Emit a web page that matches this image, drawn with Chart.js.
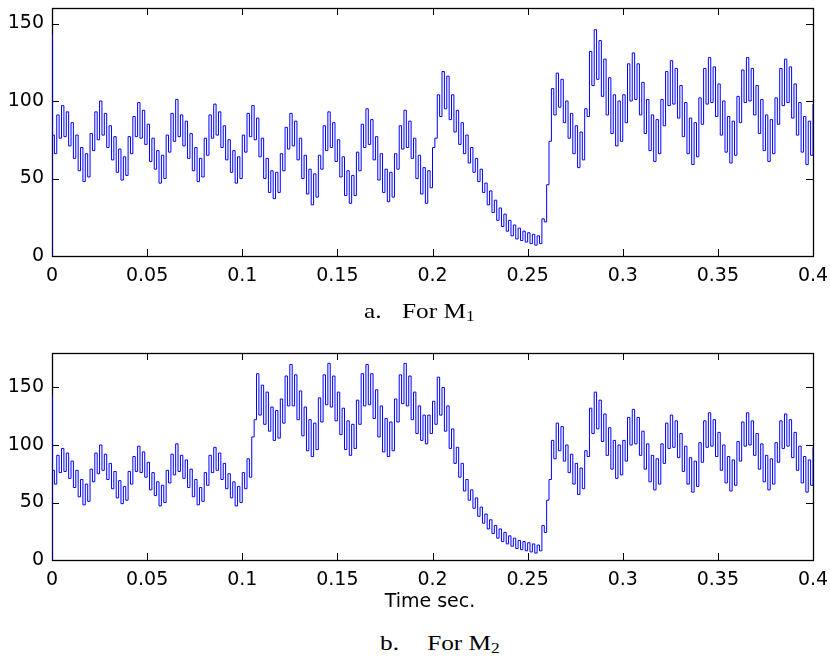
<!DOCTYPE html>
<html>
<head>
<meta charset="utf-8">
<script src="https://cdn.jsdelivr.net/npm/chart.js@4.4.0/dist/chart.umd.min.js"></script>
<style>
  body { margin: 0; background: #fff; width: 830px; height: 657px; position: relative; overflow: hidden; }
  canvas { position: absolute; left: 0; }
  .caption { position: absolute; font-family: "Liberation Serif", serif; font-size: 22px; line-height: 22px; color: #000; white-space: pre; transform: scaleX(1.15); transform-origin: 0 0; }
  .caption sub { font-size: 15px; vertical-align: -3px; line-height: 0; }
  .xlabel { position: absolute; left: 330px; width: 200px; text-align: center; font-family: "DejaVu Sans", sans-serif; font-size: 19px; line-height: 19px; top: 591px; color: #000; }
</style>
</head>
<body>
<canvas id="chartM1" width="830" height="300" style="top:0"></canvas>
<canvas id="chartM2" width="830" height="250" style="top:345px"></canvas>
<div class="caption" style="left:364px; top:300px">a.<span style="position:absolute; left:33px">For M<sub>1</sub></span></div>
<div class="caption" style="left:380px; top:632px">b.<span style="position:absolute; left:41px">For M<sub>2</sub></span></div>
<div class="xlabel">Time sec.</div>
<script>
// sampled every 1.25 ms from 0 to 0.4 s
const sampleTime = 0.00125;
const startSpike = [0, 143];

const m1Torque = [
  78, 66, 91, 76, 97, 77, 93, 71, 86, 63, 78, 55, 70, 48, 66, 51,
  79, 68, 93, 75, 100, 78, 92, 70, 84, 62, 77, 54, 69, 49, 64, 52,
  77, 66, 90, 77, 99, 76, 94, 72, 85, 61, 76, 56, 68, 47, 65, 50,
  78, 67, 92, 74, 101, 77, 91, 71, 87, 63, 79, 55, 70, 48, 63, 51,
  76, 65, 91, 76, 98, 78, 93, 70, 84, 62, 75, 54, 68, 47, 64, 50,
  78, 67, 92, 77, 97, 75, 89, 64, 76, 50, 63, 41, 55, 37, 54, 41,
  66, 55, 83, 69, 92, 71, 87, 62, 76, 50, 65, 40, 56, 33, 53, 38,
  65, 56, 84, 68, 93, 70, 86, 61, 75, 51, 64, 39, 55, 34, 52, 39,
  67, 55, 85, 70, 95, 72, 88, 62, 77, 49, 66, 41, 56, 35, 54, 38,
  66, 56, 84, 69, 94, 70, 87, 63, 76, 50, 65, 40, 57, 34, 55, 44,
  70, 76, 104, 90, 119, 95, 116, 88, 104, 80, 94, 72, 86, 66, 78, 60,
  70, 54, 63, 48, 56, 41, 47, 33, 42, 28, 36, 23, 31, 19, 27, 16,
  23, 13, 20, 11, 18, 10, 16, 9, 15, 8, 14, 7, 13, 8, 24, 22,
  46, 74, 108, 91, 118, 96, 114, 86, 100, 76, 92, 66, 84, 57, 80, 62,
  95, 90, 132, 110, 146, 114, 139, 103, 127, 91, 115, 79, 104, 71, 100, 74,
  104, 86, 124, 100, 131, 101, 124, 91, 112, 79, 101, 68, 91, 61, 88, 66,
  101, 84, 119, 97, 126, 98, 121, 89, 110, 77, 99, 66, 89, 59, 86, 64,
  102, 85, 121, 98, 128, 99, 122, 90, 111, 78, 100, 67, 90, 60, 87, 65,
  103, 86, 120, 99, 128, 100, 121, 91, 110, 79, 101, 68, 91, 61, 88, 66,
  102, 85, 121, 97, 127, 99, 122, 89, 111, 78, 99, 67, 90, 59, 87, 65,
  98
];

const m2Torque = [
  78, 66, 91, 76, 97, 77, 93, 71, 86, 63, 78, 55, 70, 48, 66, 51,
  79, 68, 93, 75, 100, 78, 92, 70, 84, 62, 77, 54, 69, 49, 64, 52,
  77, 66, 90, 77, 99, 76, 94, 72, 85, 61, 76, 56, 68, 47, 65, 50,
  78, 67, 92, 74, 101, 77, 91, 71, 87, 63, 79, 55, 70, 48, 63, 51,
  76, 65, 91, 76, 98, 78, 93, 70, 84, 62, 75, 54, 68, 47, 64, 50,
  76, 62, 88, 72, 107, 122, 162, 126, 152, 118, 146, 112, 133, 104, 130, 106,
  140, 119, 160, 134, 170, 134, 161, 122, 147, 108, 133, 95, 122, 90, 119, 96,
  141, 120, 161, 135, 171, 133, 160, 121, 146, 109, 132, 96, 121, 91, 118, 97,
  139, 118, 162, 134, 170, 135, 162, 123, 148, 107, 134, 94, 123, 90, 120, 95,
  140, 120, 161, 136, 171, 134, 160, 122, 146, 110, 134, 104, 126, 101, 126, 110,
  138, 118, 159, 126, 150, 112, 134, 97, 114, 84, 98, 72, 84, 60, 70, 52,
  61, 45, 54, 38, 46, 32, 40, 27, 35, 23, 30, 19, 27, 16, 24, 14,
  21, 12, 19, 10, 17, 9, 16, 8, 15, 7, 14, 6, 13, 8, 30, 24,
  52, 70, 104, 88, 119, 95, 116, 86, 100, 76, 92, 66, 84, 57, 80, 62,
  95, 90, 132, 110, 146, 114, 139, 103, 127, 91, 115, 79, 104, 71, 100, 74,
  104, 86, 124, 100, 131, 101, 124, 91, 112, 79, 101, 68, 91, 61, 88, 66,
  101, 84, 119, 97, 126, 98, 121, 89, 110, 77, 99, 66, 89, 59, 86, 64,
  102, 85, 121, 98, 128, 99, 122, 90, 111, 78, 100, 67, 90, 60, 87, 65,
  103, 86, 120, 99, 128, 100, 121, 91, 110, 79, 101, 68, 91, 61, 88, 66,
  102, 85, 121, 97, 127, 99, 122, 89, 111, 78, 99, 67, 90, 59, 87, 65,
  98
];

const timeTicks = [0, 0.05, 0.1, 0.15, 0.2, 0.25, 0.3, 0.35, 0.4];
const m1Ticks = [0, 50, 100, 150];
const m2Ticks = [0, 50, 100, 150];

function toPoints(values) {
  const pts = startSpike.map(v => ({ x: 0, y: v }));
  values.forEach((v, i) => pts.push({ x: i * sampleTime, y: v }));
  return pts;
}

// matlab style box with ticks pointing inwards
const matlabBox = {
  id: "matlabBox",
  beforeDatasetsDraw(chart) {
    const { ctx, chartArea: a, scales } = chart;
    const len = 7;
    ctx.save();
    ctx.strokeStyle = "#000";
    ctx.lineWidth = 1;
    ctx.beginPath();
    scales.x.ticks.forEach(t => {
      const px = Math.round(scales.x.getPixelForValue(t.value)) + 0.5;
      ctx.moveTo(px, a.bottom); ctx.lineTo(px, a.bottom - len);
      ctx.moveTo(px, a.top); ctx.lineTo(px, a.top + len);
    });
    scales.y.ticks.forEach(t => {
      const py = Math.round(scales.y.getPixelForValue(t.value)) + 0.5;
      ctx.moveTo(a.left, py); ctx.lineTo(a.left + len, py);
      ctx.moveTo(a.right, py); ctx.lineTo(a.right - len, py);
    });
    ctx.stroke();
    ctx.lineWidth = 1.3;
    ctx.strokeRect(Math.round(a.left) + 0.5, Math.round(a.top) + 0.5,
      Math.round(a.right - a.left), Math.round(a.bottom - a.top));
    ctx.restore();
  }
};

function makeChart(id, values, yMax, yTicks, xHeight) {
  return new Chart(document.getElementById(id), {
    type: "line",
    data: {
      datasets: [{
        data: toPoints(values),
        borderColor: "#0000ff",
        borderWidth: 1,
        pointRadius: 0,
        stepped: true,
        tension: 0,
        fill: false,
      }],
    },
    options: {
      responsive: false,
      animation: false,
      events: [],
      layout: { padding: { top: 8, right: 17, left: 0, bottom: 0 } },
      plugins: { legend: { display: false }, tooltip: { enabled: false } },
      scales: {
        x: {
          type: "linear",
          min: 0,
          max: 0.4,
          afterBuildTicks: s => { s.ticks = timeTicks.map(v => ({ value: v })); },
          afterFit: s => { s.height = xHeight; s.paddingLeft = 0; s.paddingRight = 0; },
          grid: { display: false, drawTicks: false },
          border: { display: false },
          ticks: {
            color: "#000",
            padding: 9,
            maxRotation: 0,
            autoSkip: false,
            font: { family: "DejaVu Sans", size: 19 },
            callback: v => String(v),
          },
        },
        y: {
          min: 0,
          max: yMax,
          afterBuildTicks: s => { s.ticks = yTicks.map(v => ({ value: v })); },
          afterFit: s => { s.width = 52; s.paddingTop = 0; s.paddingBottom = 0; },
          grid: { display: false, drawTicks: false },
          border: { display: false },
          ticks: {
            color: "#000",
            padding: 8,
            font: { family: "DejaVu Sans", size: 19 },
            callback: v => String(v),
          },
        },
      },
    },
    plugins: [matlabBox],
  });
}

makeChart("chartM1", m1Torque, 160, m1Ticks, 44);
makeChart("chartM2", m2Torque, 180, m2Ticks, 35);
</script>
</body>
</html>
